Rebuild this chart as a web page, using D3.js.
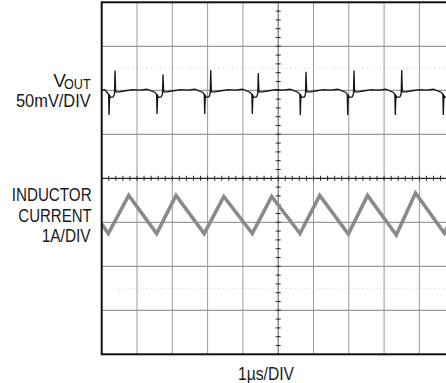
<!DOCTYPE html>
<html><head><meta charset="utf-8">
<script src="https://cdn.jsdelivr.net/npm/d3@7"></script>
<style>
html,body{margin:0;padding:0;background:#fff;}
svg{display:block;}
text{font-family:"Liberation Sans Narrow","Arial Narrow","Liberation Sans",Arial,sans-serif;fill:#1a1a1a;}
</style></head>
<body>
<svg id="c" width="446" height="383"></svg>
<script>
// ---- Data (time in µs, 1µs/DIV; Vout in mV, 50mV/DIV; current in A, 1A/DIV) ----
const xDivs = [0,1,2,3,4,5,6,7,8,9,10];
const yDivs = [-4,-3,-2,-1,0,1,2,3,4];
const refDots = [2.5,-2.5];              // dotted reference lines (div)
const voutOffsetDiv = 2;                 // channel 1 ground position (div)
const currentOffsetDiv = -4;             // channel 2 ground position (div)

const voutTime = [0.00,0.08,0.157,0.195,0.207,0.225,0.257,0.327,0.362,0.377,0.395,0.497,0.677,0.877,1.077,1.277,
 1.517,1.555,1.567,1.585,1.617,1.687,1.722,1.737,1.755,1.857,2.037,2.237,2.437,2.637,
 2.868,2.906,2.918,2.936,2.968,3.038,3.073,3.088,3.106,3.208,3.388,3.588,3.788,3.988,
 4.216,4.254,4.266,4.284,4.316,4.386,4.421,4.436,4.454,4.556,4.736,4.936,5.136,5.336,
 5.576,5.614,5.626,5.644,5.676,5.746,5.773,5.788,5.806,5.908,6.088,6.288,6.488,6.688,
 6.919,6.957,6.969,6.987,7.019,7.097,7.132,7.147,7.165,7.267,7.447,7.647,7.847,8.047,
 8.267,8.305,8.317,8.335,8.367,8.449,8.484,8.499,8.517,8.619,8.799,8.999,9.199,9.399,
 9.627,9.665,9.677,9.695,9.727,9.797,9.832,9.847,9.865,10.0];
const voutMv = [0.3,0.8,-2.5,-5,-28,-6,-8,-7.5,-4,22.5,-1.5,-1.8,-0.5,0.8,0.3,1.2,
 -2.5,-5,-27,-6,-8,-7.5,-4,18,-1.5,-1.8,-0.5,0.8,0.3,1.2,
 -2.5,-5,-27,-6,-8,-7.5,-4,23,-1.5,-1.8,-0.5,0.8,0.3,1.2,
 -2.5,-5,-27,-6,-8,-7.5,-4,19.5,-1.5,-1.8,-0.5,0.8,0.3,1.2,
 -2.5,-5,-28,-6,-8,-7.5,-4,21,-1.5,-1.8,-0.5,0.8,0.3,1.2,
 -2.5,-5,-28,-6,-8,-7.5,-4,22.5,-1.5,-1.8,-0.5,0.8,0.3,1.2,
 -2.5,-5,-28,-6,-8,-7.5,-4,23,-1.5,-1.8,-0.5,0.8,0.3,1.2,
 -2.5,-5,-28,-6,-8,-7.5,-4,22,-1.5,-1.5];

const currentTime = [0,0.187,0.765,1.558,2.105,2.904,3.459,4.266,4.816,5.618,6.176,6.986,7.530,8.346,8.890,9.706,10.0];
const currentAmp  = [2.96,2.745,3.61,2.745,3.61,2.745,3.586,2.745,3.586,2.745,3.61,2.734,3.61,2.71,3.666,2.757,3.21];

const labelsVout = ["V","OUT","50mV/DIV"];
const labelsCurrent = ["INDUCTOR","CURRENT","1A/DIV"];
const xLabel = "1µs/DIV";

// ---- Drawing ----
const svg = d3.select("#c");
const x = d3.scaleLinear().domain([0,10]).range([101.7,454.7]);
const y = d3.scaleLinear().domain([-4,4]).range([354.3,2.3]);

const grid = svg.append("g");
grid.selectAll("line.v").data(xDivs.filter(d=>d>0&&d<10&&d!==5)).join("line")
  .attr("x1",d=>x(d)).attr("x2",d=>x(d)).attr("y1",y(4)).attr("y2",y(-4))
  .attr("stroke","#9a9a9a").attr("stroke-width",1);
grid.selectAll("line.h").data(yDivs.filter(d=>d>-4&&d<4&&d!==0)).join("line")
  .attr("x1",x(0)).attr("x2",x(10)).attr("y1",d=>y(d)).attr("y2",d=>y(d))
  .attr("stroke","#9a9a9a").attr("stroke-width",1.2);

// dotted reference lines
grid.selectAll("line.r").data(refDots).join("line")
  .attr("x1",x(0.5)).attr("x2",x(10)).attr("y1",d=>y(d)).attr("y2",d=>y(d))
  .attr("stroke","#c4c4c4").attr("stroke-width",1).attr("stroke-dasharray","1,3.5");

// center axes with minor ticks
const cx = x(5), cy = y(0);
grid.append("line").attr("x1",x(0)).attr("x2",x(10)).attr("y1",cy).attr("y2",cy)
  .attr("stroke","#222").attr("stroke-width",1.2);
grid.append("line").attr("x1",cx).attr("x2",cx).attr("y1",y(4)).attr("y2",y(-4))
  .attr("stroke","#555").attr("stroke-width",1);
const minorX = d3.range(1,50).map(i=>i/5);
const minorY = d3.range(1,40).map(i=>-4+i/5);
grid.selectAll("line.tx").data(minorX).join("line")
  .attr("x1",d=>x(d)).attr("x2",d=>x(d)).attr("y1",cy-2.5).attr("y2",cy+2.5)
  .attr("stroke","#222").attr("stroke-width",1);
grid.selectAll("line.ty").data(minorY).join("line")
  .attr("x1",cx-2.5).attr("x2",cx+2.5).attr("y1",d=>y(d)).attr("y2",d=>y(d))
  .attr("stroke","#222").attr("stroke-width",1);

// traces
const curLine = d3.line().x((d,i)=>x(currentTime[i])).y((d,i)=>y(currentOffsetDiv+currentAmp[i]));
svg.append("path").attr("d",curLine(currentAmp)).attr("fill","none")
  .attr("stroke","#8a8a8a").attr("stroke-width",3.6).attr("stroke-linejoin","miter");
const vLine = d3.line().x((d,i)=>x(voutTime[i])).y((d,i)=>y(voutOffsetDiv+voutMv[i]/50));
svg.append("path").attr("d",vLine(voutMv)).attr("fill","none")
  .attr("stroke","#151515").attr("stroke-width",1.3);

// frame
svg.append("rect").attr("x",x(0)).attr("y",y(4)).attr("width",x(10)-x(0)).attr("height",y(-4)-y(4))
  .attr("fill","none").attr("stroke","#111").attr("stroke-width",2);

// labels (multi-line labels as one text element with tspans)
const fs = 19;
const tv = svg.append("text").attr("font-size",fs);
tv.append("tspan").attr("x",53.3).attr("y",86.7).text(labelsVout[0]);
tv.append("tspan").attr("x",64).attr("y",89.3).attr("font-size",15)
  .attr("textLength",26.7).attr("lengthAdjust","spacingAndGlyphs").text(labelsVout[1]);
tv.append("tspan").attr("x",16).attr("y",106.7)
  .attr("textLength",74.7).attr("lengthAdjust","spacingAndGlyphs").text(labelsVout[2]);

const curPos = [[11.7,201,80],[18.3,221.7,73.4],[41.7,241.7,49]];
const tc = svg.append("text").attr("font-size",fs);
labelsCurrent.forEach((t,i)=>{
  tc.append("tspan").attr("x",curPos[i][0]).attr("y",curPos[i][1])
    .attr("textLength",curPos[i][2]).attr("lengthAdjust","spacingAndGlyphs").text(t);
});
svg.append("text").attr("x",238).attr("y",379.5).attr("font-size",fs)
  .attr("textLength",56).attr("lengthAdjust","spacingAndGlyphs").text(xLabel);
</script>
</body></html>
